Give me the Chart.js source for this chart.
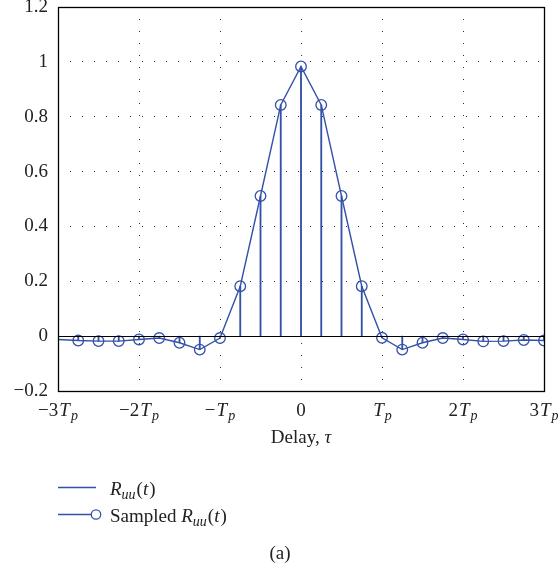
<!DOCTYPE html>
<html>
<head>
<meta charset="utf-8">
<script src="https://cdn.jsdelivr.net/npm/chart.js@4/dist/chart.umd.min.js"></script>
<style>
  html, body { margin: 0; padding: 0; background: #fff; }
  #wrap { width: 560px; height: 573px; }
</style>
</head>
<body>
<div id="wrap"><canvas id="chart" width="560" height="573"></canvas></div>
<script>
// delay in units of Tp
const curveTimes = [-3, -2.75, -2.5, -2.25, -2, -1.75, -1.5, -1.25, -1, -0.75, -0.5, -0.25, 0,
  0.25, 0.5, 0.75, 1, 1.25, 1.5, 1.75, 2, 2.25, 2.5, 2.75, 3];
const curveValues = [-0.012, -0.016, -0.018, -0.018, -0.012, -0.007, -0.024, -0.049, -0.007, 0.182, 0.511, 0.843, 0.983,
  0.843, 0.511, 0.182, -0.006, -0.049, -0.024, -0.007, -0.012, -0.019, -0.018, -0.014, -0.016];

const sampleTimes = [-2.75, -2.5, -2.25, -2, -1.75, -1.5, -1.25, -1, -0.75, -0.5, -0.25, 0,
  0.25, 0.5, 0.75, 1, 1.25, 1.5, 1.75, 2, 2.25, 2.5, 2.75, 3];
const sampleValues = [-0.016, -0.018, -0.018, -0.012, -0.007, -0.024, -0.049, -0.007, 0.182, 0.511, 0.843, 0.983,
  0.843, 0.511, 0.182, -0.006, -0.049, -0.024, -0.007, -0.012, -0.019, -0.018, -0.014, -0.016];

const xTickValues = [-3, -2, -1, 0, 1, 2, 3];
const xTickLabels = ['−3T_p', '−2T_p', '−T_p', '0', 'T_p', '2T_p', '3T_p'];
const yTickLabels = ['−0.2', '0', '0.2', '0.4', '0.6', '0.8', '1', '1.2'];

const xTitle = 'Delay, ';
const legendLabels = ['', 'Sampled '];
const caption = '(a)';

const blue = '#3451a8';
const serif = '"Liberation Serif", "DejaVu Serif", serif';

// draw a run of text parts: {t, it, sub}
function drawRich(ctx, x, y, parts, align, size, subSize) {
  size = size || 19;
  subSize = subSize || 14;
  const fontOf = p => (p.it ? 'italic ' : '') + (p.sub ? subSize : size) + 'px ' + serif;
  let total = 0;
  parts.forEach(p => { ctx.font = fontOf(p); total += ctx.measureText(p.t).width + (p.gap || 0); });
  let cx = align === 'center' ? x - total / 2 : x;
  ctx.textAlign = 'left';
  ctx.textBaseline = 'alphabetic';
  parts.forEach(p => {
    ctx.font = fontOf(p);
    ctx.fillText(p.t, cx, p.sub ? y + 4 : y);
    cx += ctx.measureText(p.t).width + (p.gap || 0);
  });
}

function tpParts(label) {
  if (label.indexOf('T_p') < 0) return [{ t: label }];
  const pre = label.replace('T_p', '');
  return [{ t: pre, gap: 1 }, { t: 'T', it: true, gap: 1 }, { t: 'p', it: true, sub: true }];
}

const ruuParts = [{ t: 'R', it: true }, { t: 'uu', it: true, sub: true, gap: 1 }, { t: '(' }, { t: 't', it: true, gap: 1 }, { t: ')' }];

const decor = {
  id: 'decor',
  afterDatasetsDraw(chart) {
    const { ctx, chartArea: a, scales: { x, y } } = chart;
    ctx.save();
    // stem baseline
    ctx.strokeStyle = '#000';
    ctx.lineWidth = 1.2;
    const y0 = Math.round(y.getPixelForValue(0)) + 0.5;
    ctx.beginPath();
    ctx.moveTo(a.left, y0);
    ctx.lineTo(a.right, y0);
    ctx.stroke();
    // box
    ctx.lineWidth = 1.3;
    ctx.strokeRect(Math.round(a.left) + 0.5, Math.round(a.top) + 0.5,
      Math.round(a.right - a.left), Math.round(a.bottom - a.top));
    ctx.restore();
  },
  afterDraw(chart) {
    const { ctx, chartArea: a, scales: { x } } = chart;
    ctx.save();
    ctx.fillStyle = '#222';
    xTickValues.forEach((v, i) => {
      drawRich(ctx, x.getPixelForValue(v), a.bottom + 25, tpParts(xTickLabels[i]), 'center');
    });
    drawRich(ctx, (a.left + a.right) / 2, a.bottom + 52, [{ t: xTitle }, { t: 'τ', it: true }], 'center');

    // legend
    const lx = 58, ly1 = 487.5, ly2 = 514.5;
    ctx.strokeStyle = blue;
    ctx.lineWidth = 1.3;
    ctx.beginPath();
    ctx.moveTo(lx, ly1); ctx.lineTo(lx + 38, ly1);
    ctx.moveTo(lx, ly2); ctx.lineTo(lx + 33, ly2);
    ctx.stroke();
    ctx.beginPath();
    ctx.arc(lx + 38, ly2, 4.7, 0, Math.PI * 2);
    ctx.stroke();
    drawRich(ctx, 110, ly1 + 7, [{ t: legendLabels[0] }].concat(ruuParts), 'left');
    drawRich(ctx, 110, ly2 + 7, [{ t: legendLabels[1] }].concat(ruuParts), 'left');

    drawRich(ctx, 280, 559, [{ t: caption }], 'center');
    ctx.restore();
  }
};

new Chart(document.getElementById('chart'), {
  type: 'scatter',
  data: {
    datasets: [
      {
        type: 'scatter',
        label: 'Sampled markers',
        data: sampleTimes.map((t, i) => ({ x: t, y: sampleValues[i] })),
        showLine: false,
        pointRadius: 5.3,
        pointBorderWidth: 1.3,
        pointBorderColor: blue,
        pointBackgroundColor: 'rgba(0,0,0,0)'
      },
      {
        type: 'line',
        label: 'Ruu(t)',
        data: curveTimes.map((t, i) => ({ x: t, y: curveValues[i] })),
        borderColor: blue,
        borderWidth: 1.4,
        pointRadius: 0,
        fill: false,
        tension: 0
      },
      {
        type: 'bar',
        label: 'Sampled stems',
        data: sampleTimes.map((t, i) => ({ x: t, y: sampleValues[i] })),
        backgroundColor: blue,
        barThickness: 1.2,
        grouped: false
      }
    ]
  },
  options: {
    responsive: false,
    animation: false,
    layout: { padding: { top: 7, right: 16, left: 0, bottom: 0 } },
    plugins: { legend: { display: false }, tooltip: { enabled: false } },
    scales: {
      x: {
        type: 'linear',
        min: -3, max: 3,
        offset: false,
        grid: { offset: false, color: '#333', lineWidth: 1, drawTicks: false },
        border: { display: false, dash: [1, 11] },
        ticks: { display: false, stepSize: 1 },
        afterFit(scale) { scale.height = 182; scale.paddingLeft = 0; scale.paddingRight = 0; }
      },
      y: {
        type: 'linear',
        min: -0.2, max: 1.2,
        grid: { color: '#333', lineWidth: 1, drawTicks: false },
        border: { display: false, dash: [1, 11] },
        ticks: {
          stepSize: 0.2,
          padding: 10,
          color: '#222',
          font: { family: serif, size: 19 },
          callback: (v, i) => yTickLabels[i]
        },
        afterFit(scale) { scale.width = 58; scale.paddingTop = 0; scale.paddingBottom = 0; }
      }
    }
  },
  plugins: [decor]
});
</script>
</body>
</html>
